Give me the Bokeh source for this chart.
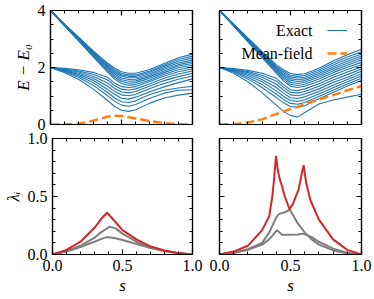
from bokeh.plotting import figure
from bokeh.layouts import column, row
from bokeh.models import (Range1d, FixedTicker, LinearAxis, Legend, LegendItem, Label,
                          PrintfTickFormatter, CustomJSTickFormatter)
from bokeh.core.properties import value
from bokeh.embed import file_html
from bokeh.resources import INLINE

# ---------------- data ----------------
s_grid = [0.0, 0.1, 0.2, 0.3, 0.4, 0.45, 0.5, 0.55, 0.6, 0.7, 0.8, 0.9, 1.0]

# exact levels E - E0, left panel (8 starting at 2, 8 starting at 4)
left_exact = [
    [2.0, 1.82, 1.58, 1.25, 0.85, 0.64, 0.50, 0.46, 0.52, 0.75, 0.93, 1.03, 1.10],
    [2.0, 1.85, 1.65, 1.38, 1.02, 0.82, 0.68, 0.64, 0.70, 0.92, 1.10, 1.20, 1.22],
    [2.0, 1.87, 1.70, 1.47, 1.13, 0.94, 0.80, 0.77, 0.83, 1.05, 1.20, 1.28, 1.34],
    [2.0, 1.89, 1.75, 1.55, 1.24, 1.06, 0.92, 0.89, 0.96, 1.15, 1.32, 1.47, 1.60],
    [2.0, 1.91, 1.80, 1.62, 1.35, 1.17, 1.04, 1.01, 1.06, 1.26, 1.44, 1.59, 1.70],
    [2.0, 1.93, 1.84, 1.69, 1.46, 1.27, 1.14, 1.11, 1.16, 1.35, 1.54, 1.68, 1.80],
    [2.0, 1.95, 1.88, 1.76, 1.57, 1.37, 1.24, 1.21, 1.25, 1.43, 1.62, 1.77, 1.88],
    [2.0, 1.97, 1.92, 1.83, 1.66, 1.46, 1.33, 1.30, 1.33, 1.51, 1.70, 1.85, 1.95],
    [4.0, 3.45, 2.92, 2.38, 1.85, 1.60, 1.44, 1.38, 1.40, 1.56, 1.76, 1.92, 2.02],
    [4.0, 3.46, 2.94, 2.41, 1.90, 1.66, 1.51, 1.45, 1.47, 1.62, 1.82, 1.99, 2.08],
    [4.0, 3.47, 2.96, 2.44, 1.95, 1.72, 1.57, 1.52, 1.53, 1.68, 1.88, 2.05, 2.14],
    [4.0, 3.48, 2.98, 2.47, 2.00, 1.78, 1.63, 1.58, 1.59, 1.73, 1.94, 2.10, 2.20],
    [4.0, 3.49, 3.00, 2.50, 2.04, 1.83, 1.69, 1.64, 1.64, 1.78, 1.99, 2.16, 2.26],
    [4.0, 3.50, 3.02, 2.53, 2.08, 1.88, 1.74, 1.69, 1.69, 1.83, 2.04, 2.22, 2.33],
    [4.0, 3.51, 3.04, 2.56, 2.12, 1.93, 1.79, 1.74, 1.74, 1.88, 2.09, 2.28, 2.40],
    [4.0, 3.52, 3.06, 2.59, 2.16, 1.98, 1.85, 1.80, 1.80, 1.93, 2.14, 2.34, 2.47],
]

right_exact = [
    [2.0, 1.80, 1.50, 1.12, 0.68, 0.46, 0.32, 0.26, 0.42, 0.72, 0.86, 0.96, 1.06],
    [2.0, 1.84, 1.60, 1.30, 0.95, 0.76, 0.63, 0.60, 0.66, 0.90, 1.12, 1.35, 1.54],
    [2.0, 1.86, 1.66, 1.40, 1.07, 0.88, 0.74, 0.71, 0.77, 0.98, 1.20, 1.42, 1.62],
    [2.0, 1.88, 1.72, 1.50, 1.18, 0.99, 0.84, 0.81, 0.87, 1.07, 1.29, 1.50, 1.70],
    [2.0, 1.90, 1.77, 1.58, 1.30, 1.10, 0.94, 0.91, 0.97, 1.16, 1.38, 1.58, 1.78],
    [2.0, 1.92, 1.82, 1.66, 1.42, 1.21, 1.04, 1.01, 1.07, 1.25, 1.47, 1.66, 1.87],
    [2.0, 1.94, 1.86, 1.73, 1.53, 1.31, 1.13, 1.10, 1.16, 1.34, 1.56, 1.75, 1.95],
    [2.0, 1.96, 1.90, 1.80, 1.62, 1.40, 1.22, 1.19, 1.25, 1.43, 1.65, 1.84, 2.02],
    [4.0, 3.45, 2.90, 2.35, 1.80, 1.53, 1.34, 1.30, 1.34, 1.52, 1.74, 1.93, 2.10],
    [4.0, 3.46, 2.92, 2.38, 1.85, 1.60, 1.41, 1.37, 1.41, 1.60, 1.82, 2.01, 2.18],
    [4.0, 3.47, 2.94, 2.41, 1.89, 1.66, 1.48, 1.44, 1.48, 1.67, 1.89, 2.08, 2.26],
    [4.0, 3.48, 2.96, 2.44, 1.93, 1.72, 1.55, 1.51, 1.54, 1.73, 1.96, 2.15, 2.33],
    [4.0, 3.49, 2.98, 2.47, 1.97, 1.77, 1.61, 1.57, 1.60, 1.79, 2.02, 2.22, 2.40],
    [4.0, 3.50, 3.00, 2.50, 2.01, 1.82, 1.67, 1.63, 1.66, 1.85, 2.09, 2.29, 2.47],
    [4.0, 3.51, 3.02, 2.53, 2.05, 1.87, 1.73, 1.69, 1.72, 1.91, 2.16, 2.37, 2.55],
    [4.0, 3.52, 3.04, 2.56, 2.10, 1.92, 1.79, 1.75, 1.78, 1.97, 2.23, 2.45, 2.64],
]

mf_left_s = [0.0, 0.1, 0.2, 0.3, 0.4, 0.45, 0.5, 0.6, 0.7, 0.8, 0.9, 1.0]
mf_left = [0.0, 0.0, 0.03, 0.13, 0.27, 0.31, 0.30, 0.21, 0.12, 0.05, 0.01, 0.0]

mf_right_s = [0.0, 0.1, 0.2, 0.3, 0.4, 0.5, 0.6, 0.7, 0.8, 0.9, 1.0]
mf_right = [0.0, 0.01, 0.07, 0.18, 0.37, 0.54, 0.71, 0.88, 1.03, 1.20, 1.35]

# eigenvalues lambda_i, left panel
lam_left_red_s = [0.0, 0.1, 0.2, 0.3, 0.35, 0.39, 0.45, 0.5, 0.6, 0.7, 0.8, 0.9, 1.0]
lam_left_red = [0.0, 0.04, 0.11, 0.23, 0.31, 0.36, 0.28, 0.21, 0.13, 0.07, 0.035, 0.012, 0.0]
lam_left_g1_s = [0.0, 0.1, 0.2, 0.3, 0.35, 0.41, 0.45, 0.5, 0.6, 0.7, 0.8, 0.9, 1.0]
lam_left_g1 = [0.0, 0.03, 0.075, 0.145, 0.195, 0.24, 0.225, 0.18, 0.11, 0.06, 0.03, 0.01, 0.0]
lam_left_g2_s = [0.0, 0.1, 0.2, 0.3, 0.35, 0.39, 0.45, 0.5, 0.6, 0.7, 0.8, 0.9, 1.0]
lam_left_g2 = [0.0, 0.025, 0.065, 0.11, 0.135, 0.15, 0.14, 0.125, 0.09, 0.055, 0.03, 0.01, 0.0]

# eigenvalues lambda_i, right panel
lam_right_red_s = [0.0, 0.1, 0.2, 0.3, 0.35, 0.372, 0.386, 0.398, 0.41, 0.424, 0.44, 0.46,
                   0.487, 0.494, 0.52, 0.557, 0.58, 0.593, 0.61, 0.64, 0.7, 0.8, 0.9, 1.0]
lam_right_red = [0.0, 0.025, 0.075, 0.21, 0.33, 0.50, 0.675, 0.85, 0.73, 0.65, 0.59, 0.50,
                 0.41, 0.39, 0.445, 0.56, 0.70, 0.77, 0.62, 0.47, 0.30, 0.13, 0.04, 0.0]
lam_right_g1_s = [0.0, 0.1, 0.2, 0.3, 0.35, 0.40, 0.42, 0.45, 0.48, 0.494, 0.55, 0.6, 0.65,
                  0.7, 0.8, 0.9, 1.0]
lam_right_g1 = [0.0, 0.015, 0.045, 0.10, 0.19, 0.32, 0.35, 0.36, 0.375, 0.39, 0.27, 0.19,
                0.13, 0.085, 0.035, 0.01, 0.0]
lam_right_g2_s = [0.0, 0.1, 0.2, 0.3, 0.35, 0.405, 0.44, 0.5, 0.55, 0.59, 0.65, 0.7, 0.8,
                  0.9, 1.0]
lam_right_g2 = [0.0, 0.012, 0.04, 0.085, 0.13, 0.21, 0.17, 0.17, 0.172, 0.18, 0.15, 0.11,
                0.05, 0.015, 0.0]

x_major = [0.0, 0.5, 1.0]
x_minor = [0.1, 0.2, 0.3, 0.4, 0.6, 0.7, 0.8, 0.9]
yE_major = [0, 2, 4]
yE_minor = [0.5, 1.0, 1.5, 2.5, 3.0, 3.5]
yL_major = [0.0, 0.5, 1.0]
yL_minor = [0.1, 0.2, 0.3, 0.4, 0.6, 0.7, 0.8, 0.9]

# ---------------- styling ----------------
FONT = "Liberation Serif"
BLUE = "#1f77b4"
ORANGE = "#ff7f0e"
RED = "#d62728"
GRAY = "#7f7f7f"
TICK_FS = "16px"
LABEL_FS = "17px"


def style_axis(ax, show_labels, fmt=None, standoff=5):
    ax.axis_line_color = "black"
    ax.axis_line_width = 1.2
    ax.major_tick_line_color = "black"
    ax.major_tick_line_width = 1.2
    ax.minor_tick_line_color = "black"
    ax.minor_tick_line_width = 1.0
    ax.major_tick_in = 5
    ax.major_tick_out = 0
    ax.minor_tick_in = 3
    ax.minor_tick_out = 0
    if show_labels:
        ax.formatter = fmt
        ax.major_label_text_font = FONT
        ax.major_label_text_font_size = TICK_FS
        ax.major_label_text_color = "black"
        ax.major_label_standoff = standoff
    else:
        ax.formatter = CustomJSTickFormatter(code="return ''")
        ax.major_label_text_font_size = "0px"
        ax.major_label_standoff = 0
    ax.axis_label_text_font = FONT
    ax.axis_label_text_font_size = LABEL_FS
    ax.axis_label_text_font_style = "italic"
    ax.axis_label_text_color = "black"


def make_fig(width, height, ml, mr, mt, mb, y_end, y_major, y_minor,
             show_x, show_y, yfmt, xlabel=None, ylabel=None):
    p = figure(width=width, height=height, x_range=Range1d(0, 1), y_range=Range1d(0, y_end),
               output_backend="svg", toolbar_location=None,
               min_border_left=ml, min_border_right=mr, min_border_top=mt, min_border_bottom=mb)
    p.grid.visible = False
    p.outline_line_color = "black"
    p.outline_line_width = 1.2
    p.background_fill_color = "white"
    p.border_fill_color = None

    p.xaxis.ticker = FixedTicker(ticks=x_major, minor_ticks=x_minor)
    p.yaxis.ticker = FixedTicker(ticks=y_major, minor_ticks=y_minor)
    style_axis(p.xaxis[0], show_x, PrintfTickFormatter(format="%.1f"), standoff=5)
    style_axis(p.yaxis[0], show_y, yfmt, standoff=5)
    if xlabel:
        p.xaxis.axis_label = xlabel
        p.xaxis.axis_label_standoff = 2
    if ylabel:
        p.yaxis.axis_label = ylabel
        p.yaxis.axis_label_standoff = 2

    top = LinearAxis(ticker=FixedTicker(ticks=x_major, minor_ticks=x_minor))
    style_axis(top, False)
    p.add_layout(top, "above")
    right = LinearAxis(ticker=FixedTicker(ticks=y_major, minor_ticks=y_minor))
    style_axis(right, False)
    p.add_layout(right, "right")
    return p


fmtE = PrintfTickFormatter(format="%d")
fmtL = PrintfTickFormatter(format="%.1f")

# left column: frame 50..192, right column: frame 219..361
tl = make_fig(205, 134, 50, 13, 10, 10, 4, yE_major, yE_minor, False, True, fmtE,
              ylabel="E − E₀")
tr = make_fig(169, 134, 14, 13, 10, 10, 4, yE_major, yE_minor, False, False, fmtE)
bl = make_fig(205, 171, 50, 13, 10, 45, 1, yL_major, yL_minor, True, True, fmtL,
              xlabel="s", ylabel="λᵢ")
br = make_fig(169, 171, 14, 13, 10, 45, 1, yL_major, yL_minor, True, False, fmtL,
              xlabel="s")

# top panels
for lev in left_exact:
    tl.line(s_grid, lev, line_color=BLUE, line_width=1.1)
tl.line(mf_left_s, mf_left, line_color=ORANGE, line_width=2.5, line_dash="9 4")

exact_r = None
for lev in right_exact:
    r = tr.line(s_grid, lev, line_color=BLUE, line_width=1.1)
    if exact_r is None:
        exact_r = r
mf_r = tr.line(mf_right_s, mf_right, line_color=ORANGE, line_width=2.5, line_dash="9 4")

legend = Legend(items=[LegendItem(label=value(""), renderers=[exact_r]),
                       LegendItem(label=value(""), renderers=[mf_r])],
                location="top_right", margin=10, padding=0, spacing=3,
                glyph_width=20, glyph_height=20, label_height=20, label_width=0,
                label_standoff=4, border_line_color=None, background_fill_alpha=0)
tr.add_layout(legend)
frame_h = 114
frame_w = 142
for txt, dy in [("Exact", 20), ("Mean-field", 43)]:
    tr.add_layout(Label(x=frame_w - 14 - 20 - 15, y=frame_h - dy, x_units="screen",
                        y_units="screen", text=txt, text_align="right",
                        text_baseline="middle", text_font=FONT,
                        text_font_size="16px", text_color="black"))

# bottom panels
bl.line(lam_left_g1_s, lam_left_g1, line_color=GRAY, line_width=2)
bl.line(lam_left_g2_s, lam_left_g2, line_color=GRAY, line_width=2)
bl.line(lam_left_red_s, lam_left_red, line_color=RED, line_width=2)

br.line(lam_right_g1_s, lam_right_g1, line_color=GRAY, line_width=2)
br.line(lam_right_g2_s, lam_right_g2, line_color=GRAY, line_width=2)
br.line(lam_right_red_s, lam_right_red, line_color=RED, line_width=2)

# the bottom row overlaps the (transparent) bottom border of the top row by 6px
layout = column(row(tl, tr), row(bl, br, margin=(-6, 0, 0, 0)))
open("out.html", "w").write(file_html(layout, INLINE))
